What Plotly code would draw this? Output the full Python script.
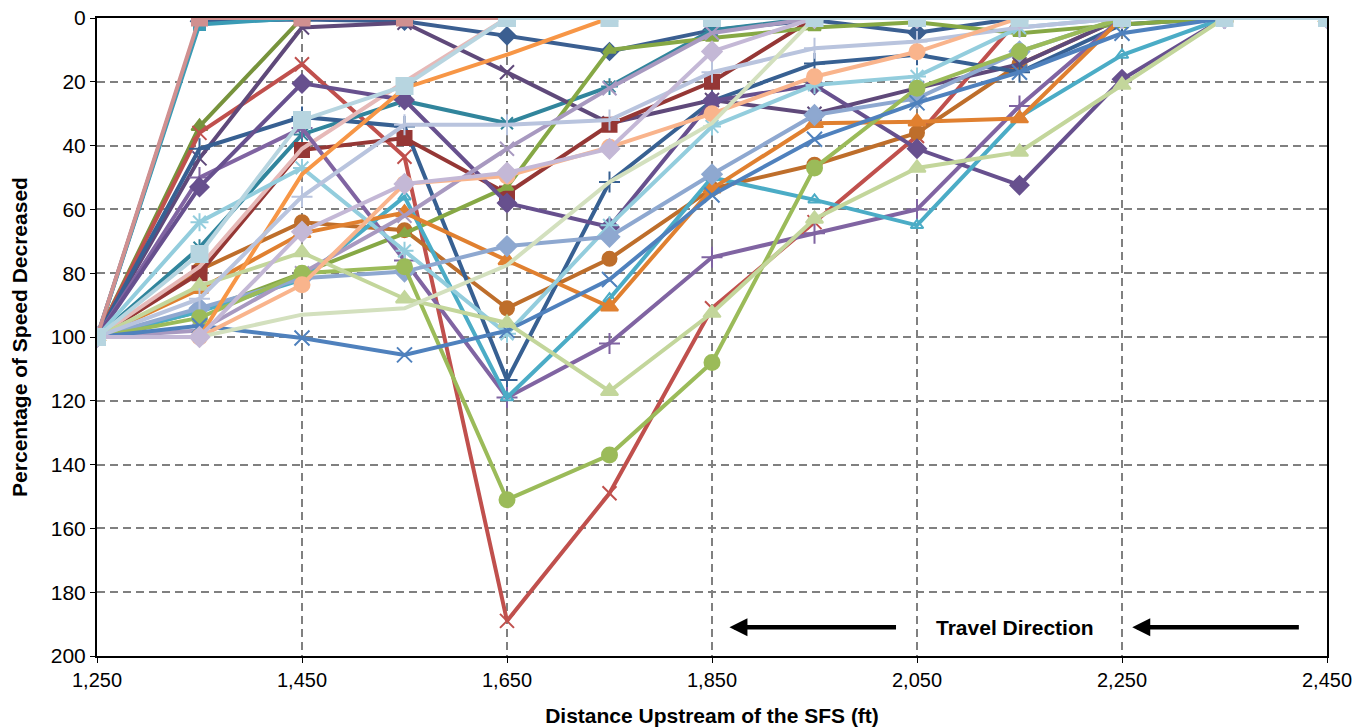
import plotly.graph_objects as go

# ---- data ----
distance_ft = [1250, 1350, 1450, 1550, 1650, 1750, 1850, 1950, 2050, 2150, 2250, 2350, 2450]

dark_blue_diamond = [100, 1, 0.5, 1, 5.6, 10.5, 3.8, 0.7, 4.6, 0, 0, 0, 0]
teal_small = [100, 2, 0, 0, 0, 0, 0, 0, 0, 0, 0, 0, 0]
olive_triangle = [100, 34, 0, 0, 0, 0, 0, 0, 0, 0, 0, 0, 0]
red_x = [100, 36, 14.5, 43.5, 189, 149, 91, 64, 37, 0, 0, 0, 0]
teal_star = [100, 72, 36.5, 26, 33, 21.5, 3.8, 0, 0, 0, 0, 0, 0]
orange_circle = [100, 79, 64, 66.5, 91, 75.5, 53.5, 46, 36, 14.5, 0, 0, 0]
dark_purple_x = [100, 44, 3, 1.5, 17, 33, 25.7, 30, 22, 14.5, 0, 0, 0]
dark_blue_plus = [100, 41, 31, 34, 113.5, 51.4, 26, 14.3, 11.5, 17, 2, 0, 0]
dark_red_square = [100, 80, 41.4, 37.6, 55, 33.5, 20, 0, 0, 0, 0, 0, 0]
pink_line = [100, 78, 41, 20, 0, 0, 0, 0, 0, 0, 0, 0, 0]
green_triangle = [100, 92, 80, 67.5, 53, 10, 6.3, 3, 1.3, 4.8, 2, 0, 0]
purple_plus = [100, 50, 34.5, 76, 119, 102, 75, 67.5, 60, 27.6, 0, 0, 0]
dark_purple_diamond = [100, 53, 20.5, 25.7, 58, 65.5, 26, 21, 41, 52.4, 19.2, 0, 0]
aqua_triangle = [100, 92, 82, 56, 119, 88, 50, 57, 65, 31, 11.6, 0, 0]
orange_triangle = [100, 85, 67.5, 61, 76, 90.5, 53.5, 33, 32.5, 31.5, 0, 0, 0]
light_aqua_star = [100, 64, 47, 73, 99, 65, 34, 21, 18.3, 3, 0, 0, 0]
lavender_grey_x = [100, 98, 80, 62, 41, 22, 4.7, 0, 0, 0, 0, 0, 0]
periwinkle_diamond = [100, 91, 81.6, 79.5, 71.5, 68.6, 49, 30.4, 25.2, 10.5, 0, 0, 0]
green_circle = [100, 94, 80, 78, 151, 137, 108, 47, 22, 10.5, 0, 0, 0]
blue_x = [100, 96.5, 100.3, 105.6, 98, 82, 55.5, 38, 26.6, 17, 4.8, 0, 0]
orange_line = [100, 100, 49, 22, 11.5, 0, 0, 0, 0, 0, 0, 0, 0]
light_green_triangle = [100, 84, 73.5, 88, 95.6, 117, 92.5, 63, 47, 42, 21, 0, 0]
lavender_blue_plus = [100, 88, 56, 33.5, 33.5, 32, 17, 9.5, 7.4, 3, 0, 0, 0]
peach_circle = [100, 100, 83.6, 52, 49.5, 40.5, 30, 18.4, 10.6, 0, 0, 0, 0]
pale_green_line = [100, 100, 93, 91, 77.5, 51.4, 33, 0, 0, 0, 0, 0, 0]
lavender_diamond = [100, 100, 67, 52, 48.5, 41, 10.5, 0, 0, 0, 0, 0, 0]
rose_square = [100, 0, 0, 0, 0, 0, 0, 0, 0, 0, 0, 0, 0]
light_blue_square = [100, 74, 32, 21.3, 0, 0, 0, 0, 0, 0, 0, 0, 0]

x_tick_vals = [1250, 1450, 1650, 1850, 2050, 2250, 2450]
x_tick_text = ["1,250", "1,450", "1,650", "1,850", "2,050", "2,250", "2,450"]
y_tick_vals = [0, 20, 40, 60, 80, 100, 120, 140, 160, 180, 200]

x_title = "Distance Upstream of the SFS (ft)"
y_title = "Percentage of Speed Decreased"
direction_label = "Travel Direction"

# ---- styles (draw order) ----
series = [
    (dark_blue_diamond, "#3B5F91", "diamond", 13),
    (teal_small, "#3A9BB5", "square", 11),
    (olive_triangle, "#77933C", "triangle-up", 14),
    (red_x, "#C0504D", "x-thin-open", 14),
    (teal_star, "#31859C", "asterisk-open", 14),
    (orange_circle, "#BE6E2B", "circle", 14),
    (dark_purple_x, "#5F497A", "x-thin-open", 14),
    (dark_blue_plus, "#376092", "cross-thin-open", 15),
    (dark_red_square, "#953735", "square", 14),
    (pink_line, "#E6B9B8", "circle", 1),
    (green_triangle, "#86A845", "triangle-up", 11),
    (purple_plus, "#8064A2", "cross-thin-open", 15),
    (dark_purple_diamond, "#67508E", "diamond", 14),
    (aqua_triangle, "#4BACC6", "triangle-up-open", 11),
    (orange_triangle, "#E08030", "triangle-up", 15),
    (light_aqua_star, "#93CDDD", "asterisk-open", 15),
    (lavender_grey_x, "#A899C0", "x-thin-open", 14),
    (periwinkle_diamond, "#8EA8D0", "diamond", 15),
    (green_circle, "#9BBB59", "circle", 15),
    (blue_x, "#4F81BD", "x-thin-open", 15),
    (orange_line, "#F79646", "square", 1),
    (light_green_triangle, "#C3D69B", "triangle-up", 15),
    (lavender_blue_plus, "#B9C4DE", "cross-thin-open", 15),
    (peach_circle, "#F9B48C", "circle", 15),
    (pale_green_line, "#D3E0BE", "circle", 1),
    (lavender_diamond, "#C4B8D6", "diamond", 15),
    (rose_square, "#D09090", "square", 15),
    (light_blue_square, "#B7D5E0", "square", 16),
]

fig = go.Figure()
for vals, color, sym, size in series:
    fig.add_trace(go.Scatter(
        x=distance_ft, y=vals, mode="lines+markers",
        line=dict(color=color, width=4),
        marker=dict(symbol=sym, size=size, color=color,
                    line=dict(color=color, width=2)),
        showlegend=False, hoverinfo="x+y",
    ))

font_family = "Liberation Sans, Arial, Helvetica, sans-serif"

fig.update_layout(
    width=1370, height=728,
    margin=dict(l=97, r=43, t=18, b=72),
    paper_bgcolor="white", plot_bgcolor="white",
    font=dict(family=font_family, size=20, color="black"),
    xaxis=dict(
        range=[1250, 2450], tickvals=x_tick_vals, ticktext=x_tick_text,
        showgrid=True, gridcolor="#808080", griddash="8px,5px", gridwidth=1.8,
        showline=True, linecolor="black", linewidth=2, mirror=True,
        ticks="outside", ticklen=5, tickcolor="black",
        zeroline=False, automargin=False,
        tickfont=dict(size=20),
        title=dict(text="<b>" + x_title + "</b>", font=dict(family=font_family, size=21), standoff=18),
    ),
    yaxis=dict(
        range=[200, 0], tickvals=y_tick_vals,
        showgrid=True, gridcolor="#808080", griddash="8px,5px", gridwidth=1.8,
        showline=True, linecolor="black", linewidth=2, mirror=True,
        ticks="outside", ticklen=5, tickcolor="black",
        zeroline=False, automargin=False,
        tickfont=dict(size=21),
        title=dict(text="<b>" + y_title + "</b>", font=dict(family=font_family, size=21), standoff=17),
    ),
)

# travel direction arrows and label
for head_x, tail_x in [(1867, 2031), (2260, 2424)]:
    fig.add_annotation(
        x=head_x, y=191, ax=tail_x, ay=191, xref="x", yref="y", axref="x", ayref="y",
        text="", showarrow=True, arrowhead=2, arrowsize=0.8, arrowwidth=4.5, arrowcolor="black",
    )
fig.add_annotation(
    x=2146, y=191, xref="x", yref="y", text="<b>" + direction_label + "</b>",
    showarrow=False, font=dict(family=font_family, size=21, color="black"),
    bgcolor="white",
)

fig.write_html("out.html")
